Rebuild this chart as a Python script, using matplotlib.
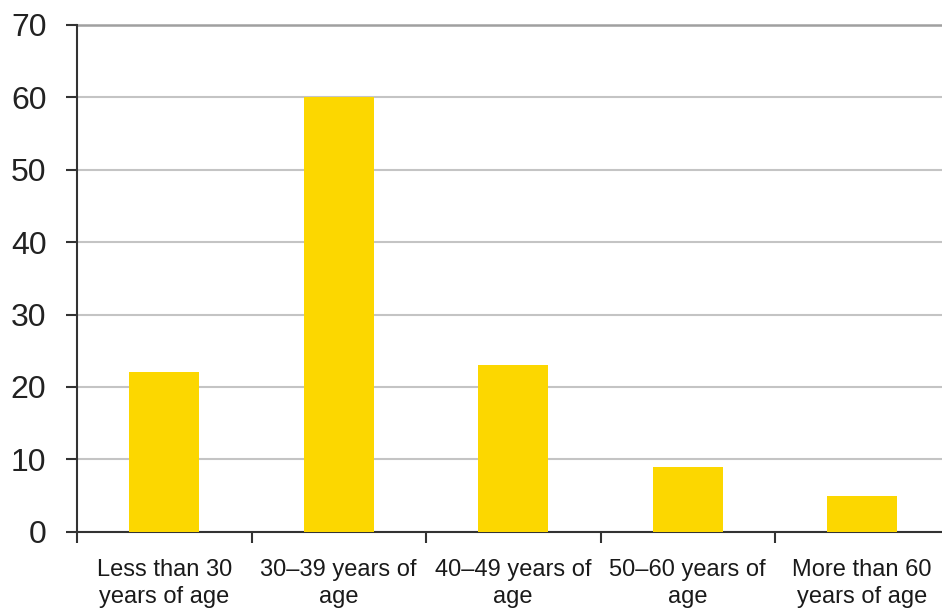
import matplotlib
matplotlib.use("Agg")
import matplotlib.pyplot as plt

categories = ["Less than 30\nyears of age", "30\u201339 years of\nage", "40\u201349 years of\nage",
              "50\u201360 years of\nage", "More than 60\nyears of age"]
values = [22, 60, 23, 9, 5]
yticks = [0, 10, 20, 30, 40, 50, 60, 70]

plt.rcParams['font.family'] = ['Liberation Sans', 'DejaVu Sans']

fig = plt.figure(figsize=(9.42, 6.12), dpi=100)
ax = fig.add_axes([77/942, 80.3/612, 872.5/942, 506.7/612])

x = list(range(len(categories)))
ax.bar(x, values, width=0.40, color='#FCD700', zorder=3)

ax.set_xlim(-0.5, len(categories) - 0.5)
ax.set_ylim(0, 70)
ax.set_yticks(yticks)
ax.set_yticklabels([str(t) for t in yticks], fontsize=23, color='#222222')

ax.set_xticks([i + 0.5 for i in range(-1, len(categories))], minor=False)
ax.set_xticklabels([])
ax.set_xticks(x, minor=True)
ax.set_xticklabels(categories, minor=True, fontsize=17, linespacing=1.25, color='#1a1a1a')
ax.tick_params(axis='x', which='minor', length=0, pad=20)
ax.tick_params(axis='x', which='major', length=8, width=1.5, color='#333333', direction='out')
ax.tick_params(axis='y', length=8, width=1.5, color='#333333', direction='out', pad=14)

for s in ['top', 'right']:
    ax.spines[s].set_visible(False)
for s in ['left', 'bottom']:
    ax.spines[s].set_linewidth(1.5)
    ax.spines[s].set_color('#333333')

ax.yaxis.grid(True, color='#c4c4c4', linewidth=1.5, zorder=0)
ax.axhline(70, color='#a0a0a0', linewidth=1.8, zorder=1, clip_on=False)
ax.set_axisbelow(True)

fig.savefig('out.png', dpi=100)
